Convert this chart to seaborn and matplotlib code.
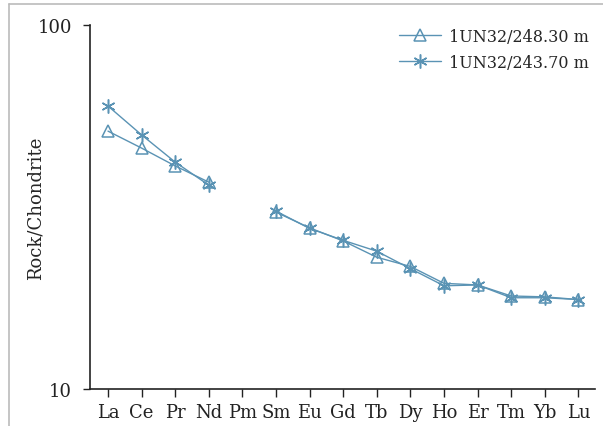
import matplotlib.pyplot as plt
import matplotlib.lines as mlines
import numpy as np
import pandas as pd
import seaborn as sns

elements = ["La", "Ce", "Pr", "Nd", "Pm", "Sm", "Eu", "Gd", "Tb", "Dy", "Ho", "Er", "Tm", "Yb", "Lu"]
sample_a = [51.1, 45.9, 41.0, 37.0, np.nan, 30.6, 27.7, 25.5, 23.0, 21.7, 19.5, 19.3, 18.0, 17.9, 17.6]
sample_b = [59.9, 49.9, 42.0, 36.3, np.nan, 30.8, 27.6, 25.6, 23.9, 21.4, 19.2, 19.3, 17.8, 17.8, 17.6]
labels = ["1UN32/248.30 m", "1UN32/243.70 m"]

COLOR = "#5a93b4"

sns.set_theme(style="ticks")
plt.rcParams["font.family"] = ["DejaVu Serif"]

df = pd.DataFrame({"element": elements, labels[0]: sample_a, labels[1]: sample_b})
df["pos"] = range(len(elements))

fig = plt.figure(figsize=(6.03, 4.27), dpi=100)
ax = fig.add_axes([0.149, 0.087, 0.838, 0.852])

markers = {labels[0]: dict(marker="^", markersize=9, markerfacecolor="none", markeredgewidth=1.1),
           labels[1]: dict(marker=(6, 2, 0), markersize=10, markeredgewidth=1.1)}

for lab in labels:
    ax.plot(df["pos"], df[lab], color=COLOR, linewidth=1.0, markeredgecolor=COLOR, **markers[lab], label=lab)

ax.set_yscale("log")
ax.set_ylim(10, 100)
ax.set_xlim(-0.54, 14.5)
ax.set_yticks([10, 100])
ax.set_yticklabels(["10", "100"])
ax.minorticks_off()
ax.set_xticks(df["pos"])
ax.set_xticklabels(elements)
ax.tick_params(axis="both", labelsize=13, colors="#222222", length=6, width=1)
ax.tick_params(axis="y", pad=8, length=5)
ax.tick_params(axis="x", pad=4)
ax.set_ylabel("Rock/Chondrite", fontsize=13)
ax.yaxis.set_label_coords(-45 / 505, 0.5)
sns.despine(ax=ax)
for s in ["left", "bottom"]:
    ax.spines[s].set_color("#222222")
    ax.spines[s].set_linewidth(1.2)

ax.legend(loc="upper right", frameon=False, fontsize=11.5, handlelength=2.6,
          handletextpad=0.5, labelspacing=0.55, borderaxespad=0.0, bbox_to_anchor=(1.0, 1.01))

fig.add_artist(mlines.Line2D([9 / 603, 9 / 603], [0, 1 - 5 / 427], color="#bbbbbb", linewidth=1.2))
fig.add_artist(mlines.Line2D([9 / 603, 1], [1 - 5 / 427, 1 - 5 / 427], color="#bbbbbb", linewidth=1.2))

fig.savefig("out.png", dpi=100)
